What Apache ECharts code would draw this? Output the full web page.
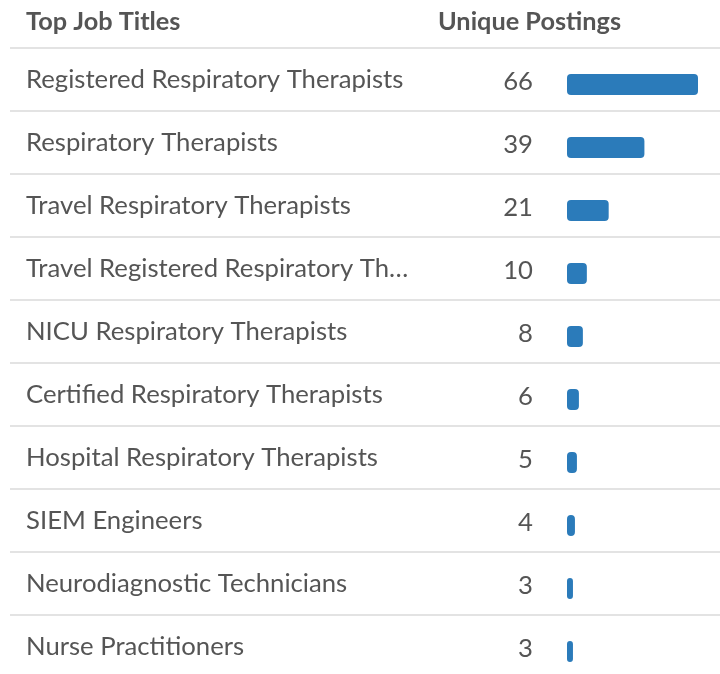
<!DOCTYPE html>
<html>
<head>
<meta charset="utf-8">
<script src="https://cdn.jsdelivr.net/npm/echarts@6/dist/echarts.min.js"></script>
<style>html,body{margin:0;padding:0;background:#fff}#c{width:720px;height:674px}</style>
</head>
<body>
<div id="c"></div>
<script>
const titles = [
  "Registered Respiratory Therapists",
  "Respiratory Therapists",
  "Travel Respiratory Therapists",
  "Travel Registered Respiratory Therapists",
  "NICU Respiratory Therapists",
  "Certified Respiratory Therapists",
  "Hospital Respiratory Therapists",
  "SIEM Engineers",
  "Neurodiagnostic Technicians",
  "Nurse Practitioners"
];
const postings = [66, 39, 21, 10, 8, 6, 5, 4, 3, 3];
const headers = ["Top Job Titles", "Unique Postings"];

const chart = echarts.init(document.getElementById('c'), null, {renderer: 'canvas'});
const textColor = '#555555';
const fs = 25.7;
chart.setOption({
  animation: false,
  backgroundColor: '#ffffff',
  textStyle: {fontFamily: 'Lato'},
  title: [
    {text: headers[0], left: 21, top: 4, textStyle: {fontFamily: 'Lato', fontWeight: 'bold', fontSize: 25.3, color: textColor}},
    {text: headers[1], left: 433, top: 4, textStyle: {fontFamily: 'Lato', fontWeight: 'bold', fontSize: 25.3, color: textColor}}
  ],
  grid: [
    {left: 10, right: 0, top: 48, height: 630, outerBoundsMode: 'none', containLabel: false},
    {left: 567, width: 131, top: 53, height: 630, outerBoundsMode: 'none', containLabel: false}
  ],
  xAxis: [
    {gridIndex: 0, type: 'value', show: false, min: 0, max: 1},
    {gridIndex: 1, type: 'value', show: false, min: 0, max: 66}
  ],
  yAxis: [
    {
      gridIndex: 0, type: 'category', inverse: true, data: titles,
      axisLine: {show: false}, axisTick: {show: false},
      splitLine: {show: true, interval: 0, lineStyle: {color: '#e3e3e3', width: 2}},
      axisLabel: {
        inside: true, margin: 16, interval: 0, fontSize: fs, color: textColor,
        fontFamily: 'Lato', width: 386, overflow: 'truncate', ellipsis: '…',
        padding: [5, 0, 0, 0]
      }
    },
    {gridIndex: 1, type: 'category', inverse: true, data: titles, show: false}
  ],
  series: [
    {
      type: 'bar', xAxisIndex: 1, yAxisIndex: 1, data: postings,
      barWidth: 21,
      itemStyle: {color: '#2b7bba', borderRadius: 4},
      label: {show: true, position: 'left', distance: 34, offset: [0, -2.5], fontSize: fs, color: textColor, fontFamily: 'Lato'}
    }
  ]
});
</script>
</body>
</html>
